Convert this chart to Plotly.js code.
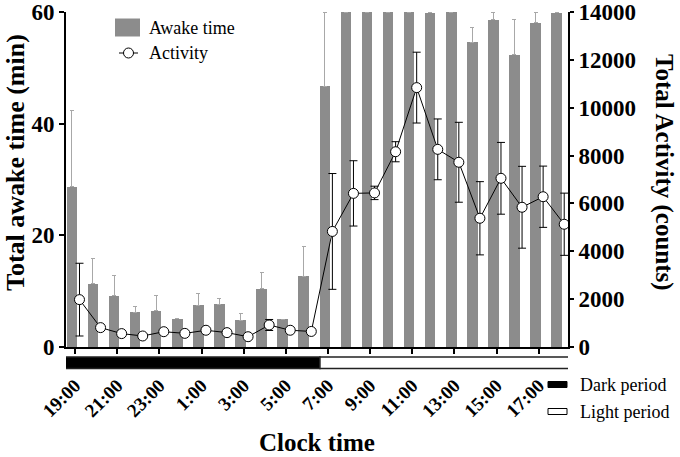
<!DOCTYPE html>
<html>
<head>
<meta charset="utf-8">
<script src="https://cdn.plot.ly/plotly-3.0.1.min.js"></script>
<style>html,body{margin:0;padding:0;background:#fff;}#chart{width:680px;height:457px;}</style>
</head>
<body>
<div id="chart"></div>
<script>
// Hour index 0 = 19:00 ... 23 = 18:00
var hourIndex = [0,1,2,3,4,5,6,7,8,9,10,11,12,13,14,15,16,17,18,19,20,21,22,23];
var tickIndex = [0,2,4,6,8,10,12,14,16,18,20,22];
var tickLabels = ["19:00","21:00","23:00","1:00","3:00","5:00","7:00","9:00","11:00","13:00","15:00","17:00"];

var awakeTime = [28.7,11.3,9.2,6.2,6.5,5.1,7.5,7.7,4.8,10.4,5.0,12.7,46.7,60,60,60,60,59.9,60,54.6,58.6,52.3,58.1,59.9];
var awakeErr  = [13.6,4.5,3.6,1.1,2.8,0,2.0,1.0,1.2,3.0,0,5.3,13.3,0,0,0,0,0.2,0,2.7,1.4,6.4,1.9,0.2];

var activity    = [1980,810,560,460,640,570,700,600,430,920,700,650,4830,6420,6440,8160,10840,8260,7720,5380,7050,5840,6280,5130];
var activityErr = [1520,80,60,60,80,60,80,60,60,230,60,60,2420,1365,280,420,1480,1270,1670,1530,1500,1710,1280,1300];

var periodNames  = ["Dark period","Light period"];
var periodStart  = [-0.52, 11.62];
var periodEnd    = [11.62, 23.48];
var periodColors = ["#000000","#ffffff"];

var serif = "Liberation Serif, Times New Roman, serif";
var zeros = awakeErr.map(function(){return 0;});
var actX = hourIndex.map(function(i){return i + 0.21;});

var traces = [
  {
    type: 'bar', name: 'Awake time', x: hourIndex, y: awakeTime,
    offset: -0.4, width: 0.5,
    marker: {color: '#8c8c8c', line: {width: 0}},
    error_y: {type: 'data', symmetric: false, array: awakeErr, arrayminus: zeros,
              color: '#a8a8a8', thickness: 1, width: 2},
    showlegend: false, yaxis: 'y'
  },
  {
    type: 'scatter', name: 'Activity', x: actX, y: activity, yaxis: 'y2',
    mode: 'lines+markers', cliponaxis: false,
    line: {color: '#000', width: 1},
    marker: {size: 10, color: '#fff', line: {color: '#000', width: 1}},
    error_y: {type: 'data', array: activityErr, color: '#000', thickness: 1, width: 4},
    showlegend: false
  }
];

function px2x(p){return (p-66)/502;}
function px2y(p){return (347-p)/335;}

var shapes = [];
var annotations = [];
// period bar
for (var k=0;k<periodNames.length;k++){
  shapes.push({type:'rect', xref:'x', yref:'paper', x0:periodStart[k], x1:periodEnd[k],
    y0:px2y(357), y1:px2y(368.5), fillcolor:periodColors[k], line:{color:'#222', width:1.5}});
}
// period legend
var legY = [[381.5,387.5],[408.5,414.5]];
var legTextY = [385, 412];
for (var k=0;k<periodNames.length;k++){
  shapes.push({type:'rect', xref:'paper', yref:'paper', x0:px2x(548), x1:px2x(567),
    y0:px2y(legY[k][0]), y1:px2y(legY[k][1]), fillcolor:periodColors[k], line:{color:'#000', width:1}});
  annotations.push({xref:'paper', yref:'paper', x:px2x(578), y:px2y(legTextY[k]), xanchor:'left', yanchor:'middle',
    text:periodNames[k], showarrow:false, font:{family:serif, size:18, color:'#000'}});
}
// top legend
shapes.push({type:'rect', xref:'paper', yref:'paper', x0:px2x(115), x1:px2x(140), y0:px2y(18.5), y1:px2y(36.5),
  fillcolor:'#8c8c8c', line:{width:0}});
shapes.push({type:'line', xref:'paper', yref:'paper', x0:px2x(119), x1:px2x(138), y0:px2y(53), y1:px2y(53),
  line:{color:'#000', width:1}});
shapes.push({type:'circle', xref:'paper', yref:'paper', x0:px2x(123.5), x1:px2x(133.5), y0:px2y(48), y1:px2y(58),
  fillcolor:'#fff', line:{color:'#000', width:1}});
annotations.push({xref:'paper', yref:'paper', x:px2x(147), y:px2y(28), xanchor:'left', yanchor:'middle',
  text:'Awake time', showarrow:false, font:{family:serif, size:18, color:'#000'}});
annotations.push({xref:'paper', yref:'paper', x:px2x(147), y:px2y(53), xanchor:'left', yanchor:'middle',
  text:'Activity', showarrow:false, font:{family:serif, size:18, color:'#000'}});
// axis titles
annotations.push({xref:'paper', yref:'paper', x:px2x(15), y:px2y(163), xanchor:'center', yanchor:'middle',
  text:'<b>Total awake time (min)</b>', textangle:-90, showarrow:false, font:{family:serif, size:26, color:'#000'}});
annotations.push({xref:'paper', yref:'paper', x:px2x(664), y:px2y(172), xanchor:'center', yanchor:'middle',
  text:'<b>Total Activity (counts)</b>', textangle:90, showarrow:false, font:{family:serif, size:25, color:'#000'}});

var layout = {
  width: 680, height: 457,
  margin: {l: 66, r: 112, t: 12, b: 110},
  paper_bgcolor: '#fff', plot_bgcolor: '#fff',
  showlegend: false,
  bargap: 0,
  xaxis: {
    range: [-0.43, 23.39], tickmode: 'array', tickvals: tickIndex, ticktext: tickLabels,
    tickangle: -45, showline: true, linecolor: '#000', linewidth: 2,
    ticks: 'outside', ticklen: 5, tickwidth: 2, tickcolor: '#000',
    ticklabelstandoff: 13,
    tickfont: {family: serif, size: 19, color: '#000', weight: 'bold'},
    showgrid: false, zeroline: false,
    title: {text: '<b>Clock time</b>', font: {family: serif, size: 25, color: '#000'}, standoff: 13}
  },
  yaxis: {
    range: [0, 60], tickvals: [0,20,40,60], showline: true, linecolor: '#000', linewidth: 2,
    ticks: 'outside', ticklen: 5, tickwidth: 2, tickcolor: '#000',
    tickfont: {family: serif, size: 23, color: '#000', weight: 'bold'},
    showgrid: false, zeroline: false
  },
  yaxis2: {
    overlaying: 'y', side: 'right', range: [0, 14000], dtick: 2000, tick0: 0, tickformat: 'd',
    showline: true, linecolor: '#000', linewidth: 2,
    ticks: 'outside', ticklen: 4, tickwidth: 2, tickcolor: '#000',
    tickfont: {family: serif, size: 23, color: '#000', weight: 'bold'},
    showgrid: false, zeroline: false
  },
  shapes: shapes,
  annotations: annotations
};

Plotly.newPlot('chart', traces, layout, {displayModeBar: false, staticPlot: true});
</script>
</body>
</html>
